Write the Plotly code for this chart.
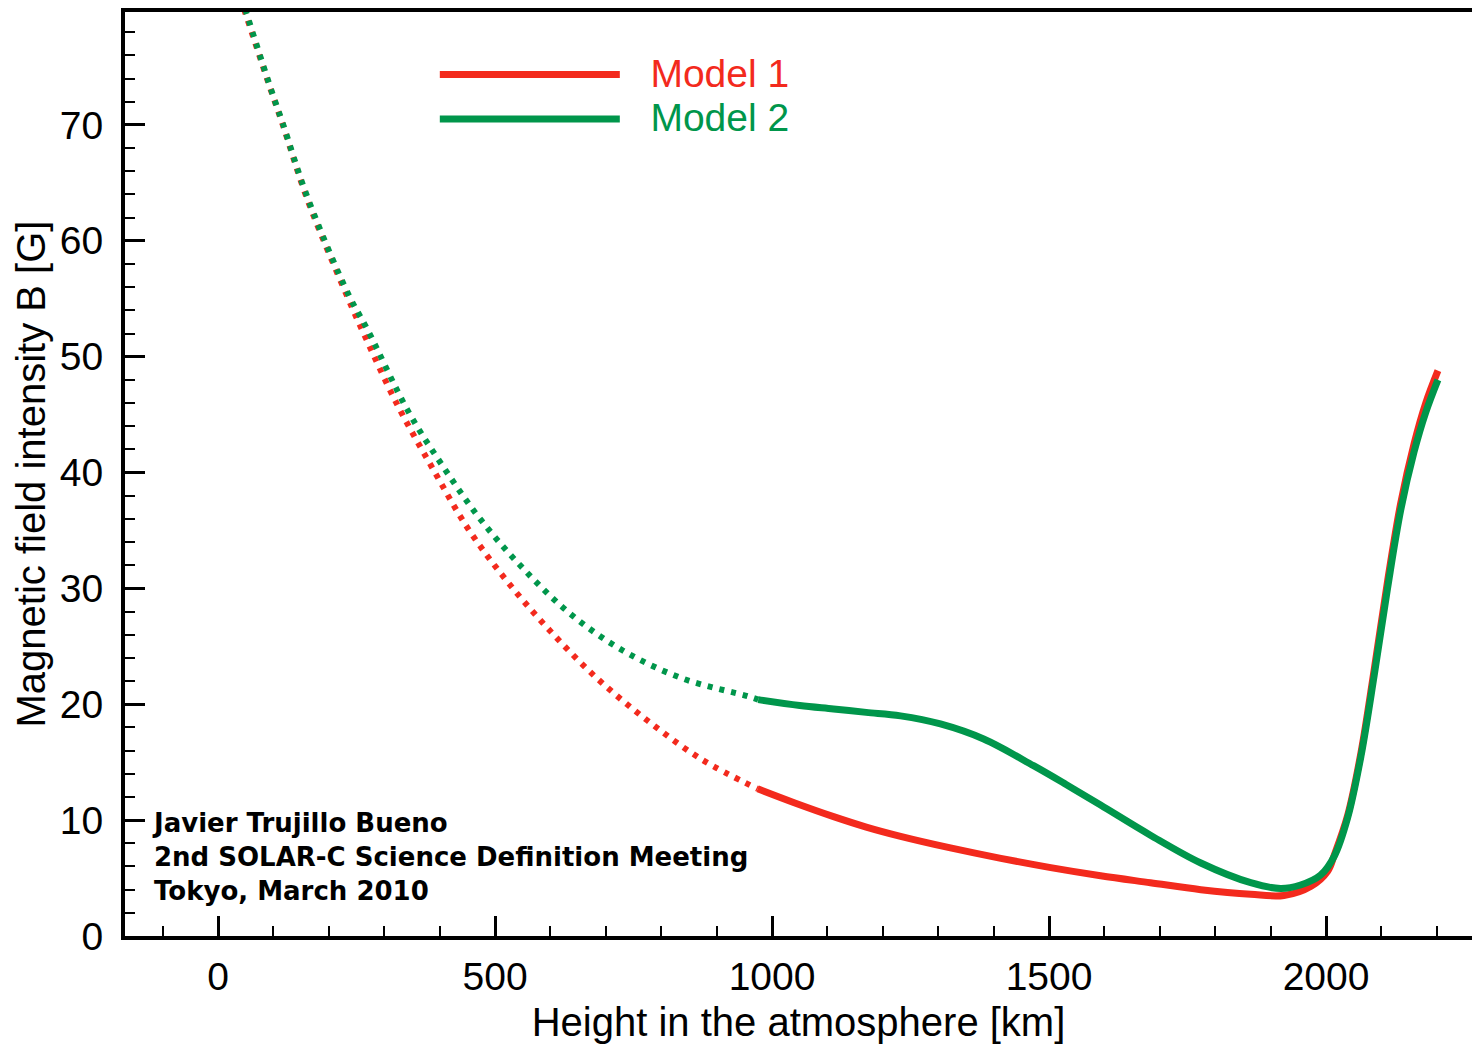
import plotly.graph_objects as go

# ---------------- data ----------------
# Model 1 (red): dotted (extrapolated) part and solid part
h_m1_dot = [47, 94, 117, 161, 235, 262, 323, 388, 452, 522, 600, 685, 775, 871, 974]
b_m1_dot = [80.0, 73.2, 70.0, 63.6, 55.0, 52.1, 45.9, 40.3, 35.1, 30.6, 26.3, 22.2, 18.6, 15.3, 12.7]
h_m1_sol = [974, 1040, 1111, 1170, 1232, 1322, 1413, 1503, 1593, 1683, 1774, 1864, 1924,
            1973, 2003, 2015, 2039, 2063, 2087, 2111, 2135, 2159, 2180, 2202]
b_m1_sol = [12.7, 11.5, 10.3, 9.4, 8.6, 7.6, 6.7, 5.9, 5.2, 4.6, 4.0, 3.6, 3.5,
            4.3, 5.6, 7.0, 10.4, 15.8, 23.0, 30.6, 37.4, 42.5, 46.0, 48.8]

# Model 2 (green)
h_m2_dot = [49, 94, 117, 161, 235, 269, 343, 405, 473, 551, 636, 732, 840, 956, 975]
b_m2_dot = [80.0, 73.3, 70.1, 63.8, 55.4, 52.4, 45.3, 40.6, 36.0, 31.7, 27.8, 24.6, 22.2, 20.7, 20.4]
h_m2_sol = [975, 1050, 1111, 1170, 1232, 1304, 1382, 1472, 1530, 1593, 1683, 1774, 1864,
            1918, 1954, 1990, 2015, 2039, 2063, 2087, 2111, 2135, 2159, 2180, 2202]
b_m2_sol = [20.4, 19.9, 19.6, 19.3, 19.0, 18.3, 17.0, 14.7, 13.1, 11.3, 8.7, 6.3, 4.6,
            4.1, 4.4, 5.25, 6.9, 10.2, 15.5, 22.5, 30.0, 36.8, 41.8, 45.2, 48.0]

series_names = ["Model 1", "Model 2"]
x_ticks = [0, 500, 1000, 1500, 2000]
y_ticks = [0, 10, 20, 30, 40, 50, 60, 70]
credit_lines = ["Javier Trujillo Bueno", "2nd SOLAR-C Science Definition Meeting", "Tokyo, March 2010"]

RED = "#f32a1d"
GREEN = "#00964b"

fig = go.Figure()

def add_model(hd, bd, hs, bs, color, name):
    fig.add_trace(go.Scatter(x=hd, y=bd, mode="lines", showlegend=False,
                             line=dict(color=color, width=6, dash="5px,7px", shape="spline"),
                             hoverinfo="skip"))
    fig.add_trace(go.Scatter(x=hs, y=bs, mode="lines",
                             name=f'&nbsp;&nbsp;<span style="color:{color};font-size:39px">&#8201;{name}</span>',
                             line=dict(color=color, width=7, shape="spline")))

add_model(h_m1_dot, b_m1_dot, h_m1_sol, b_m1_sol, RED, series_names[0])
add_model(h_m2_dot, b_m2_dot, h_m2_sol, b_m2_sol, GREEN, series_names[1])

fig.add_annotation(text="<br>".join(credit_lines), xref="paper", yref="paper",
                   x=0.0185, y=0.141, xanchor="left", yanchor="top", align="left",
                   showarrow=False,
                   font=dict(family="Comic Sans MS, DejaVu Sans", size=26, color="black",
                             weight="bold"))

tick_font = dict(family="Liberation Sans, Arial, Helvetica", size=39, color="black")
title_font = dict(family="Liberation Sans, Arial, Helvetica", size=40, color="black")

fig.update_layout(
    width=1472, height=1047,
    margin=dict(l=125, r=0, t=12, b=111),
    paper_bgcolor="white", plot_bgcolor="white",
    font=tick_font,
    showlegend=True,
    legend=dict(x=0.23, y=0.962, xanchor="left", yanchor="top",
                bgcolor="rgba(0,0,0,0)", itemwidth=180,
                font=dict(family="Liberation Sans, Arial", size=32)),
    xaxis=dict(range=[-168, 2263.5], tickvals=x_ticks, ticks="inside", ticklen=20,
               tickwidth=3, tickcolor="black", showline=True, linewidth=4,
               linecolor="black", mirror=True, showgrid=False, zeroline=False,
               tickfont=tick_font, ticklabelstandoff=3,
               minor=dict(dtick=100, tick0=0, ticks="inside", ticklen=10, tickwidth=2,
                          tickcolor="black", showgrid=False),
               title=dict(text="Height in the atmosphere [km]", font=title_font, standoff=12)),
    yaxis=dict(range=[0, 79.75], tickvals=y_ticks, ticks="inside", ticklen=20,
               tickwidth=3, tickcolor="black", showline=True, linewidth=4,
               linecolor="black", mirror=False, showgrid=False, zeroline=False,
               tickfont=tick_font, ticklabelstandoff=10,
               minor=dict(dtick=2, tick0=0, ticks="inside", ticklen=10, tickwidth=2,
                          tickcolor="black", showgrid=False),
               title=dict(text="Magnetic field intensity B [G]", font=title_font, standoff=3)),
)

fig.write_html("out.html")
